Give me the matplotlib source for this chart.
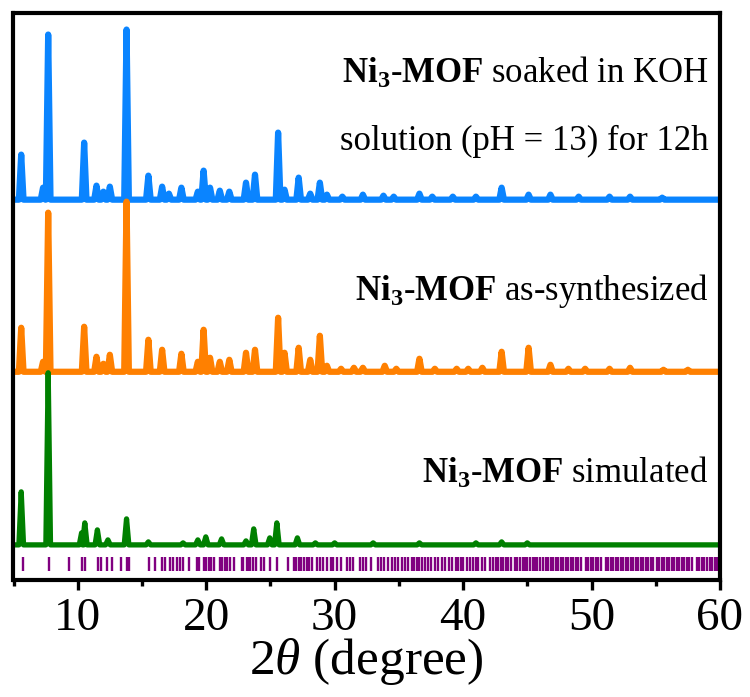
import numpy as np
import matplotlib.pyplot as plt
from matplotlib.ticker import MultipleLocator

plt.rcParams['font.family'] = ['Liberation Serif', 'DejaVu Serif']
plt.rcParams['mathtext.fontset'] = 'custom'
plt.rcParams['mathtext.rm'] = 'Liberation Serif'
plt.rcParams['mathtext.bf'] = 'Liberation Serif:bold'
plt.rcParams['mathtext.it'] = 'Liberation Serif:italic'

# peak positions (2theta) and heights above each trace's own baseline (a.u.)
koh_pos = [5.6, 7.3, 7.7, 10.5, 11.46, 12.0, 12.5, 13.8, 15.5, 16.57, 17.1, 18.07,
           19.35, 19.8, 20.3, 21.06, 21.8, 23.1, 23.8, 25.6, 26.1, 27.2, 28.1,
           28.85, 29.4, 30.6, 32.2, 33.8, 34.6, 36.6, 37.6, 39.2, 41.0, 43.0,
           45.1, 46.8, 49.0, 51.4, 53.0, 55.5]
koh_int = [45, 12, 165, 57, 14, 8, 13, 170, 24, 13, 6, 12,
           8, 29, 12, 9, 8, 17, 25, 67, 10, 22, 6,
           17, 5, 3, 5, 4, 3, 6, 3, 3, 3, 12,
           5, 5, 3, 3, 3, 2]

syn_pos = [5.6, 7.3, 7.7, 10.5, 11.46, 12.0, 12.5, 13.8, 15.5, 16.57, 18.07,
           19.35, 19.8, 20.3, 21.06, 21.8, 23.1, 23.8, 25.6, 26.1, 27.2, 28.1,
           28.85, 29.4, 30.5, 31.5, 32.2, 33.9, 34.8, 36.6, 37.8, 39.5, 40.4,
           41.5, 43.0, 45.1, 46.8, 48.2, 49.5, 51.4, 53.0, 55.6, 57.5]
syn_int = [44, 10, 159, 45, 15, 8, 17, 170, 32, 22, 18,
           10, 42, 14, 10, 12, 19, 22, 54, 19, 24, 12,
           36, 6, 3, 4, 4, 6, 3, 13, 3, 3, 3,
           4, 20, 24, 7, 3, 3, 3, 4, 2, 2]

sim_pos = [5.6, 7.7, 10.3, 10.55, 11.53, 12.35, 13.8, 15.5, 18.2, 19.35, 19.97,
           21.2, 23.1, 23.7, 24.95, 25.5, 27.1, 28.5, 30.0, 33.0, 36.6, 41.0,
           43.0, 45.0]
sim_int = [53, 172, 12, 22, 15, 5, 26, 3, 2, 5, 8,
           6, 4, 16, 7, 22, 7, 2, 2, 2, 2, 2,
           3, 2]

# reflection positions of the simulated pattern
refl = [5.74, 7.74, 9.30, 10.34, 10.60, 11.58, 11.85, 12.31, 12.67, 13.40, 13.84,
        13.97, 15.53, 16.05, 16.57, 16.83, 17.17, 17.42, 17.76, 17.94, 18.20,
        18.64, 19.29, 19.42, 19.84, 20.02, 20.23, 20.41, 20.59, 21.06, 21.24,
        21.45, 21.63, 21.89, 22.15, 22.75, 22.87, 23.14, 23.32, 23.39, 23.65,
        23.84, 24.30, 24.51, 24.95, 25.52, 26.38, 26.85, 27.03, 27.21, 27.42,
        27.63, 27.81, 27.99, 28.20, 28.59, 28.85, 29.11, 29.37, 29.70, 29.89,
        30.15, 30.53, 30.98, 31.18, 31.44, 31.96, 32.22, 32.48, 32.82, 33.34,
        33.60, 33.86, 34.12, 34.43, 34.69, 34.95, 35.21, 35.47, 35.73, 35.99,
        36.19, 36.38, 36.58, 36.77, 37.02, 37.28, 37.54, 37.80, 38.06, 38.32,
        38.58, 38.89, 39.15, 39.41, 39.62, 39.83, 40.01, 40.27, 40.53, 40.79,
        40.99, 41.18, 41.44, 41.70, 42.09, 42.35, 42.56, 42.74, 42.92, 43.13,
        43.33, 43.52, 43.70, 44.04, 44.22, 44.43, 44.63, 44.81, 45.00, 45.20,
        45.41, 45.59, 45.78, 45.98, 46.24, 46.45, 46.63, 46.81, 47.02, 47.23,
        47.41, 47.59, 47.80, 48.01, 48.19, 48.37, 48.58, 48.79, 48.97, 49.18,
        49.57, 49.75, 49.93, 50.14, 50.34, 50.53, 50.71, 51.12, 51.30, 51.49,
        51.69, 51.90, 52.08, 52.27, 52.47, 52.65, 52.86, 53.04, 53.25, 53.43,
        53.64, 53.82, 54.03, 54.21, 54.42, 54.60, 54.81, 55.07, 55.25, 55.46,
        55.64, 55.85, 56.03, 56.24, 56.42, 56.63, 56.81, 57.02, 57.20, 57.41,
        57.59, 57.80, 58.18, 58.37, 58.57, 58.76, 58.96, 59.22, 59.40, 59.61,
        59.79, 59.95]

offsets = {'koh': 380, 'syn': 208, 'sim': 35}


def profile(pos, inten, base, hw=0.18):
    xs = [5.0]
    ys = [base]
    for p, h in sorted(zip(pos, inten)):
        xs += [p - hw, p, p + hw]
        ys += [base, base + h, base]
    xs.append(60.0)
    ys.append(base)
    return np.array(xs), np.array(ys)


fig = plt.figure(figsize=(7.5, 6.97), dpi=100)
ax = fig.add_axes([0.018, 0.168, 0.942, 0.814])

x, y = profile(koh_pos, koh_int, offsets['koh'])
ax.plot(x, y, color='#0a84ff', lw=4.5, solid_joinstyle='round', solid_capstyle='round')
x, y = profile(syn_pos, syn_int, offsets['syn'])
ax.plot(x, y, color='#ff8000', lw=4.5, solid_joinstyle='round', solid_capstyle='round')
x, y = profile(sim_pos, sim_int, offsets['sim'])
ax.plot(x, y, color='#008000', lw=3.8, solid_joinstyle='round', solid_capstyle='round')

ax.vlines(refl, 9, 23, color='#800080', lw=1.7)

ax.set_xlim(5, 60)
ax.set_ylim(0, 567)
ax.set_yticks([])
ax.xaxis.set_major_locator(MultipleLocator(10))
ax.xaxis.set_minor_locator(MultipleLocator(5))
ax.tick_params(axis='x', which='major', direction='out', length=7, width=2.4,
               labelsize=34, pad=6)
ax.tick_params(axis='x', which='minor', direction='out', length=4, width=2.4)
for s in ax.spines.values():
    s.set_linewidth(3)

ax.set_xlabel(r'2$\theta$ (degree)', fontsize=37, labelpad=-3)

fs = 25
ax.text(59.1, 497, r'$\mathbf{Ni_3}$-$\mathbf{MOF}$ soaked in KOH', fontsize=fs,
        ha='right', va='baseline')
ax.text(59.1, 430, 'solution (pH = 13) for 12h', fontsize=fs, ha='right', va='baseline')
ax.text(59.1, 280, r'$\mathbf{Ni_3}$-$\mathbf{MOF}$ as-synthesized', fontsize=fs,
        ha='right', va='baseline')
ax.text(59.1, 97, r'$\mathbf{Ni_3}$-$\mathbf{MOF}$ simulated', fontsize=fs,
        ha='right', va='baseline')

fig.savefig('out.png', dpi=100)
